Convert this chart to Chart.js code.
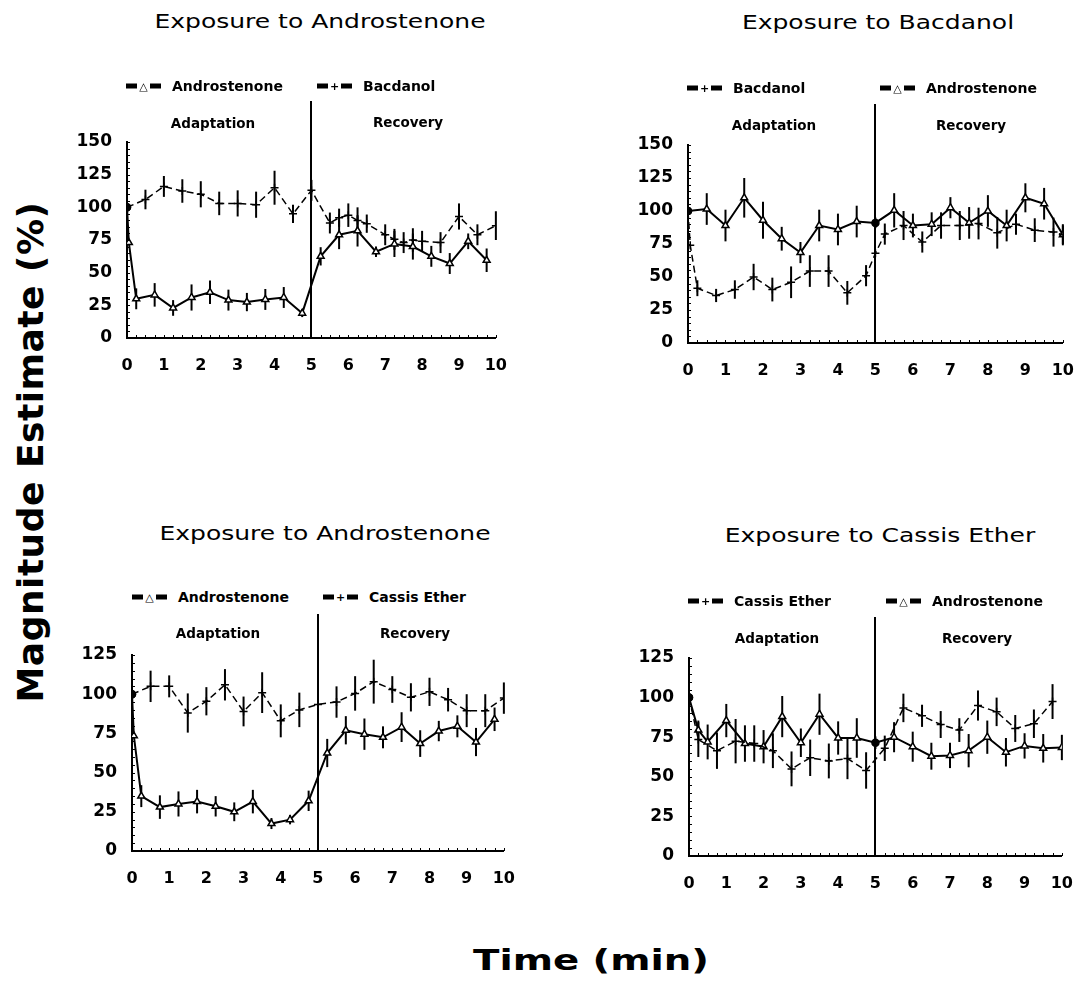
<!DOCTYPE html>
<html>
<head>
<meta charset="utf-8">
<script src="https://cdn.jsdelivr.net/npm/chart.js@4.4.1/dist/chart.umd.min.js"></script>
<style>
  html, body { margin: 0; padding: 0; background: #fff; }
  #page { position: relative; width: 1092px; height: 991px; overflow: hidden; font-family: 'DejaVu Sans', sans-serif; color: #000; }
  .box { position: absolute; }
  .txt { position: absolute; white-space: nowrap; line-height: 1; }
  .mk { display: inline-flex; align-items: center; justify-content: space-between; width: 35px; height: 14px; vertical-align: middle; }
  .mk i { display: block; width: 11px; height: 5px; background: #000; }
  .mk b { font: bold 11px 'DejaVu Sans'; line-height: 1; }
</style>
</head>
<body>
<div id="page"></div>
<script>
// ---- panel 1: exposure to androstenone (androstenone / bacdanol)
const p1AndroTime = [0, 0.05, 0.25, 0.75, 1.25, 1.75, 2.25, 2.75, 3.25, 3.75, 4.25, 4.75, 5.25, 5.75, 6.25, 6.75, 7.25, 7.75, 8.25, 8.75, 9.25, 9.75];
const p1Andro     = [100, 73, 30, 33, 23, 31, 35, 29, 27.5, 29.5, 31, 19, 62.5, 79, 82, 66, 72, 70, 62.5, 57, 74, 59.5];
const p1AndroErr  = [0, 0, 8, 9, 6, 10, 9, 8, 7, 8, 8, 3, 7, 11, 12, 4, 10, 10, 8, 8, 6, 9];
const p1BacTime   = [0, 0.5, 1, 1.5, 2, 2.5, 3, 3.5, 4, 4.5, 5, 5.5, 5.75, 6, 6.25, 6.5, 7, 7.25, 7.5, 7.75, 8, 8.5, 9, 9.5, 10];
const p1Bac       = [100, 106, 116, 112.5, 110, 103, 103, 102, 115, 95, 113, 88, 92, 94, 90, 87.5, 79, 75.5, 73, 75, 74, 73, 93, 79, 86];
const p1BacErr    = [0, 7.5, 8, 9, 10, 9, 10, 10, 13, 7, 8, 8, 7, 9, 10, 7, 8, 8, 8, 9, 8, 8, 10, 8, 11];

// ---- panel 2: exposure to bacdanol
const p2BacTime   = [0, 0.06, 0.25, 0.75, 1.25, 1.75, 2.25, 2.75, 3.25, 3.75, 4.25, 4.75, 5, 5.25, 5.75, 6.25, 6.75, 7.25, 7.75, 8.25, 8.75, 9.25, 9.75, 10];
const p2Bac       = [100, 74, 41.5, 36, 40.5, 50, 40.5, 46, 54.5, 54.5, 38, 51, 68, 82.5, 89, 76.5, 89, 89, 90.5, 83.5, 90, 85.5, 84, 82];
const p2BacErr    = [0, 0, 6, 5, 7, 10, 9, 12, 12, 12, 9, 8, 0, 8, 11, 8, 10, 11, 12, 12, 8, 9, 11, 7];
const p2AndroTime = [0, 0.5, 1, 1.5, 2, 2.5, 3, 3.5, 4, 4.5, 5, 5.5, 6, 6.5, 7, 7.5, 8, 8.5, 9, 9.5, 10];
const p2Andro     = [100, 101.5, 89, 110, 93, 79, 68.5, 89, 86, 92, 91, 100.5, 89, 90, 102.5, 91, 100, 89, 110, 105.5, 82];
const p2AndroErr  = [0, 12, 12, 15, 14, 9, 8, 12, 12, 12, 4, 13, 9, 9, 8, 12, 12, 12, 11, 12, 8];

// ---- panel 3: exposure to androstenone (androstenone / cassis ether)
const p3AndroTime = [0, 0.05, 0.25, 0.75, 1.25, 1.75, 2.25, 2.75, 3.25, 3.75, 4.25, 4.75, 5.25, 5.75, 6.25, 6.75, 7.25, 7.75, 8.25, 8.75, 9.25, 9.75];
const p3Andro     = [100, 73.5, 35, 28, 30, 31.5, 28.5, 25, 31.5, 17.5, 20, 32, 62.5, 77, 74.5, 72.5, 79, 68.5, 76.5, 79.5, 69.5, 84];
const p3AndroErr  = [0, 0, 7, 7.5, 8, 7.5, 6.5, 6, 7.5, 3.5, 3, 6.5, 9, 9, 10, 7, 9.5, 8.5, 6.5, 7, 9, 7.5];
const p3CasTime   = [0, 0.5, 1, 1.5, 2, 2.5, 3, 3.5, 4, 4.5, 5, 5.5, 6, 6.5, 7, 7.5, 8, 8.5, 9, 9.5, 10];
const p3Cas       = [100, 105, 105, 88, 95.5, 106, 89, 101, 83, 90, 93.5, 95, 100.5, 108, 103, 98, 101.5, 96.5, 89.5, 89.5, 97.5];
const p3CasErr    = [0, 10, 7, 12.5, 9, 10, 9.5, 13, 10.5, 11, 0, 10, 11, 14, 8.5, 9, 9, 7.5, 10.5, 10.5, 10];

// ---- panel 4: exposure to cassis ether
const p4CasTime   = [0, 0.25, 0.75, 1.25, 1.75, 2.25, 2.75, 3.25, 3.75, 4.25, 4.75, 5.25, 5.75, 6.25, 6.75, 7.25, 7.75, 8.25, 8.75, 9.25, 9.75];
const p4Cas       = [100, 73.5, 66.5, 72.5, 71, 66.5, 55, 62, 60, 61.5, 54, 68, 93.5, 88.5, 83, 79.5, 95, 91, 80.5, 83.5, 97.5];
const p4CasErr    = [0, 11, 11.5, 14, 11.5, 11, 11, 11.5, 11, 13, 11.5, 8, 9, 7, 8.5, 7.5, 9.5, 9, 8.5, 9, 11];
const p4AndroTime = [0, 0.25, 0.5, 1, 1.5, 2, 2.5, 3, 3.5, 4, 4.5, 5, 5.5, 6, 6.5, 7, 7.5, 8, 8.5, 9, 9.5, 10];
const p4Andro     = [100, 79.5, 72, 85.5, 71, 69, 88, 71.5, 89.5, 74.5, 74.5, 71.5, 75, 69, 63, 63.5, 66.5, 75, 65.5, 69.5, 68, 68.5];
const p4AndroErr  = [0, 6, 11, 10.5, 11.5, 10.5, 13, 9, 13, 10.5, 12.5, 4, 9.5, 9.5, 8.5, 8, 10.5, 10.5, 9, 8, 9, 8];

const xTicks = [0, 1, 2, 3, 4, 5, 6, 7, 8, 9, 10];

const page = document.getElementById('page');

function addText(txt, cx, cy, css, xform) {
    const d = document.createElement('div');
    d.className = 'txt';
    d.textContent = txt;
    d.style.cssText += `left:${cx}px;top:${cy}px;${css};transform:translate(-50%,-50%) ${xform || ''}`;
    page.appendChild(d);
    return d;
}

function addLegend(symbol, txt, x, cy) {
    const d = document.createElement('div');
    d.className = 'txt';
    d.style.cssText += `left:${x}px;top:${cy}px;transform:translateY(-50%);font:bold 14px 'DejaVu Sans';`;
    d.innerHTML = `<span class="mk"><i></i><b>${symbol}</b><i></i></span><span style="margin-left:11px;vertical-align:middle">${txt}</span>`;
    page.appendChild(d);
}

// error bars, phase divider and the small inward ticks
const extras = {
    id: 'extras',
    beforeDatasetsDraw(chart) {
        const { ctx, scales: { x, y } } = chart;
        ctx.save();
        ctx.strokeStyle = '#000';
        ctx.lineWidth = 2;
        chart.data.datasets.forEach(ds => {
            ds.data.forEach((p, i) => {
                const e = ds.errors[i];
                if (!e) return;
                const px = x.getPixelForValue(p.x);
                ctx.beginPath();
                ctx.moveTo(px, y.getPixelForValue(p.y - e));
                ctx.lineTo(px, y.getPixelForValue(p.y + e));
                ctx.stroke();
            });
        });
        ctx.restore();
    },
    afterDraw(chart) {
        const { ctx, chartArea: a, scales: { x, y } } = chart;
        ctx.save();
        ctx.strokeStyle = '#000';
        ctx.lineWidth = 2;
        const px5 = Math.round(x.getPixelForValue(5));
        ctx.beginPath();
        ctx.moveTo(px5, a.bottom);
        ctx.lineTo(px5, a.top - 41);
        ctx.stroke();
        ctx.lineWidth = 1;
        for (let t = 0.25; t <= 10; t += 0.25) {
            const px = Math.round(x.getPixelForValue(t)) + 0.5;
            ctx.beginPath();
            ctx.moveTo(px, a.bottom);
            ctx.lineTo(px, a.bottom - 3);
            ctx.stroke();
        }
        for (let v = 5; v <= y.max; v += 5) {
            const py = Math.round(y.getPixelForValue(v)) + 0.5;
            ctx.beginPath();
            ctx.moveTo(a.left, py);
            ctx.lineTo(a.left + 3, py);
            ctx.stroke();
        }
        ctx.restore();
    }
};

function series(t, v, e, kind) {
    const andro = kind === 'andro';
    const filled = c => c.raw && (c.raw.x === 0 || (andro && c.raw.x === 5));
    return {
        data: t.map((tt, i) => ({ x: tt, y: v[i] })),
        errors: e,
        showLine: true,
        borderColor: '#000',
        borderWidth: andro ? 2 : 1.5,
        borderDash: andro ? [] : [7, 4],
        tension: 0,
        pointStyle: c => filled(c) ? 'circle' : (andro ? 'triangle' : 'cross'),
        pointRadius: c => filled(c) ? 3.5 : 4,
        pointBackgroundColor: c => filled(c) ? '#000' : '#fff',
        pointBorderColor: '#000',
        pointBorderWidth: 1.5
    };
}

const panels = [
    { left: 67, top: 92, w: 458, h: 291, pr: 15, yMax: 150,
      sets: [series(p1AndroTime, p1Andro, p1AndroErr, 'andro'), series(p1BacTime, p1Bac, p1BacErr, 'odor')] },
    { left: 628, top: 95, w: 464, h: 293, pr: 15, yMax: 150,
      sets: [series(p2BacTime, p2Bac, p2BacErr, 'odor'), series(p2AndroTime, p2Andro, p2AndroErr, 'andro')] },
    { left: 72, top: 605, w: 461, h: 291, pr: 15, yMax: 125,
      sets: [series(p3AndroTime, p3Andro, p3AndroErr, 'andro'), series(p3CasTime, p3Cas, p3CasErr, 'odor')] },
    { left: 629, top: 608, w: 462, h: 293, pr: 10, yMax: 125,
      sets: [series(p4CasTime, p4Cas, p4CasErr, 'odor'), series(p4AndroTime, p4Andro, p4AndroErr, 'andro')] }
];

panels.forEach(p => {
    const box = document.createElement('div');
    box.className = 'box';
    box.style.cssText = `left:${p.left}px;top:${p.top}px;width:${p.w}px;height:${p.h}px`;
    const cv = document.createElement('canvas');
    cv.width = p.w;
    cv.height = p.h;
    box.appendChild(cv);
    page.appendChild(box);

    new Chart(cv.getContext('2d'), {
        type: 'scatter',
        data: { datasets: p.sets },
        options: {
            responsive: false,
            animation: false,
            devicePixelRatio: 1,
            layout: { padding: { top: 50, right: p.pr, left: 0, bottom: 0 } },
            plugins: { legend: { display: false }, tooltip: { enabled: false } },
            scales: {
                x: {
                    type: 'linear', min: 0, max: 10,
                    afterBuildTicks: s => { s.ticks = xTicks.map(v => ({ value: v })); },
                    afterFit: s => { s.height = 45; },
                    ticks: { color: '#000', padding: 18, font: { family: 'DejaVu Sans', weight: 'bold', size: 16 } },
                    grid: { display: false, drawTicks: false },
                    border: { color: '#000', width: 2 }
                },
                y: {
                    min: 0, max: p.yMax,
                    afterFit: s => { s.width = 60; },
                    ticks: { stepSize: 25, color: '#000', padding: 15, font: { family: 'DejaVu Sans', weight: 'bold', size: 17 } },
                    grid: { display: false, drawTicks: false },
                    border: { color: '#000', width: 2 }
                }
            }
        },
        plugins: [extras]
    });
});

// panel titles
const titleCss = "font:20px 'DejaVu Sans'";
addText('Exposure to Androstenone', 320, 21, titleCss, 'scaleX(1.25)');
addText('Exposure to Bacdanol', 878, 22, titleCss, 'scaleX(1.25)');
addText('Exposure to Androstenone', 325, 533, titleCss, 'scaleX(1.25)');
addText('Exposure to Cassis Ether', 880, 535, titleCss, 'scaleX(1.25)');

// legends
addLegend('&#9651;', 'Androstenone', 126, 85);
addLegend('+', 'Bacdanol', 317, 85);
addLegend('+', 'Bacdanol', 687, 87);
addLegend('&#9651;', 'Androstenone', 880, 87);
addLegend('&#9651;', 'Androstenone', 132, 596);
addLegend('+', 'Cassis Ether', 323, 596);
addLegend('+', 'Cassis Ether', 688, 600);
addLegend('&#9651;', 'Androstenone', 886, 600);

// phase labels
const phaseCss = "font:bold 13.5px 'DejaVu Sans'";
addText('Adaptation', 213, 123, phaseCss);
addText('Recovery', 408, 122, phaseCss);
addText('Adaptation', 774, 125, phaseCss);
addText('Recovery', 971, 125, phaseCss);
addText('Adaptation', 218, 633, phaseCss);
addText('Recovery', 415, 633, phaseCss);
addText('Adaptation', 777, 638, phaseCss);
addText('Recovery', 977, 638, phaseCss);

// shared axis titles
addText('Magnitude Estimate (%)', 30, 452, "font:bold 36px 'DejaVu Sans';letter-spacing:0.5px", 'rotate(-90deg)');
addText('Time (min)', 591, 960, "font:bold 28px 'DejaVu Sans'", 'scaleX(1.38)');
</script>
</body>
</html>
